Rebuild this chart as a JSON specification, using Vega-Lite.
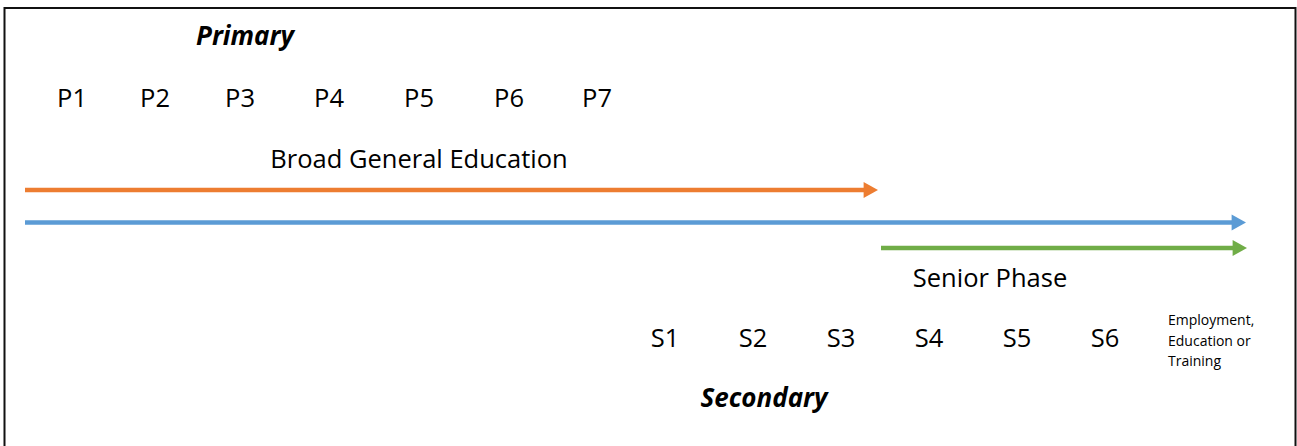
{
  "$schema": "https://vega.github.io/schema/vega-lite/v6.json",
  "width": 1297,
  "height": 446,
  "autosize": {"type": "fit", "contains": "padding"},
  "padding": 0,
  "background": "white",
  "config": {"view": {"stroke": null}, "font": "Open Sans"},
  "datasets": {
    "frame": [{"x1": 4.5, "x2": 1295.5, "y1": 8, "y2": 452}],
    "arrows": [
      {"arrow": "Broad General Education", "start": 25, "tip": 878, "y": 190},
      {"arrow": "Whole curriculum", "start": 25, "tip": 1246, "y": 222.5},
      {"arrow": "Senior Phase", "start": 881, "tip": 1247, "y": 248}
    ],
    "labels": [
      {"kind": "stage", "label": "Primary", "x": 245, "y": 45},
      {"kind": "year", "label": "P1", "x": 72, "y": 107},
      {"kind": "year", "label": "P2", "x": 155, "y": 107},
      {"kind": "year", "label": "P3", "x": 240, "y": 107},
      {"kind": "year", "label": "P4", "x": 329, "y": 107},
      {"kind": "year", "label": "P5", "x": 419, "y": 107},
      {"kind": "year", "label": "P6", "x": 509, "y": 107},
      {"kind": "year", "label": "P7", "x": 597, "y": 107},
      {"kind": "phase", "label": "Broad General Education", "x": 419, "y": 167.5},
      {"kind": "phase", "label": "Senior Phase", "x": 990, "y": 287},
      {"kind": "year", "label": "S1", "x": 665, "y": 347},
      {"kind": "year", "label": "S2", "x": 753, "y": 347},
      {"kind": "year", "label": "S3", "x": 841, "y": 347},
      {"kind": "year", "label": "S4", "x": 929, "y": 347},
      {"kind": "year", "label": "S5", "x": 1017, "y": 347},
      {"kind": "year", "label": "S6", "x": 1105, "y": 347},
      {"kind": "stage", "label": "Secondary", "x": 764, "y": 407},
      {"kind": "note", "label": "Employment,", "x": 1168, "y": 325},
      {"kind": "note", "label": "Education or", "x": 1168, "y": 345.5},
      {"kind": "note", "label": "Training", "x": 1168, "y": 366}
    ]
  },
  "layer": [
    {
      "data": {"name": "frame"},
      "mark": {"type": "rect", "fill": null, "stroke": "#111111", "strokeWidth": 2, "clip": true},
      "encoding": {
        "x": {"field": "x1", "type": "quantitative", "scale": {"domain": [0, 1297], "nice": false, "zero": false}, "axis": null},
        "x2": {"field": "x2"},
        "y": {"field": "y1", "type": "quantitative", "scale": {"domain": [0, 446], "nice": false, "zero": false, "reverse": true}, "axis": null},
        "y2": {"field": "y2"}
      }
    },
    {
      "data": {"name": "arrows"},
      "transform": [{"calculate": "datum.tip - 9", "as": "shaftEnd"}],
      "mark": {"type": "rule", "strokeWidth": 4.5},
      "encoding": {
        "x": {"field": "start", "type": "quantitative"},
        "x2": {"field": "shaftEnd"},
        "y": {"field": "y", "type": "quantitative"},
        "color": {"field": "arrow", "type": "nominal", "legend": null,
          "scale": {"domain": ["Broad General Education", "Whole curriculum", "Senior Phase"], "range": ["#ED7D31", "#5B9BD5", "#70AD47"]}}
      }
    },
    {
      "data": {"name": "arrows"},
      "mark": {"type": "point", "filled": true, "opacity": 1, "shape": "M-1.8,-1L0,0L-1.8,1Z", "size": 256, "strokeWidth": 0},
      "encoding": {
        "x": {"field": "tip", "type": "quantitative"},
        "y": {"field": "y", "type": "quantitative"},
        "color": {"field": "arrow", "type": "nominal", "legend": null}
      }
    },
    {
      "data": {"name": "labels"},
      "transform": [{"filter": "datum.kind === 'stage'"}],
      "mark": {"type": "text", "fontSize": 26, "fontWeight": "bold", "fontStyle": "italic", "align": "center", "baseline": "alphabetic", "color": "black"},
      "encoding": {
        "x": {"field": "x", "type": "quantitative"},
        "y": {"field": "y", "type": "quantitative"},
        "text": {"field": "label"}
      }
    },
    {
      "data": {"name": "labels"},
      "transform": [{"filter": "datum.kind === 'year' || datum.kind === 'phase'"}],
      "mark": {"type": "text", "fontSize": 25.5, "align": "center", "baseline": "alphabetic", "color": "black"},
      "encoding": {
        "x": {"field": "x", "type": "quantitative"},
        "y": {"field": "y", "type": "quantitative"},
        "text": {"field": "label"}
      }
    },
    {
      "data": {"name": "labels"},
      "transform": [{"filter": "datum.kind === 'note'"}],
      "mark": {"type": "text", "fontSize": 14, "align": "left", "baseline": "alphabetic", "color": "black"},
      "encoding": {
        "x": {"field": "x", "type": "quantitative"},
        "y": {"field": "y", "type": "quantitative"},
        "text": {"field": "label"}
      }
    }
  ]
}
